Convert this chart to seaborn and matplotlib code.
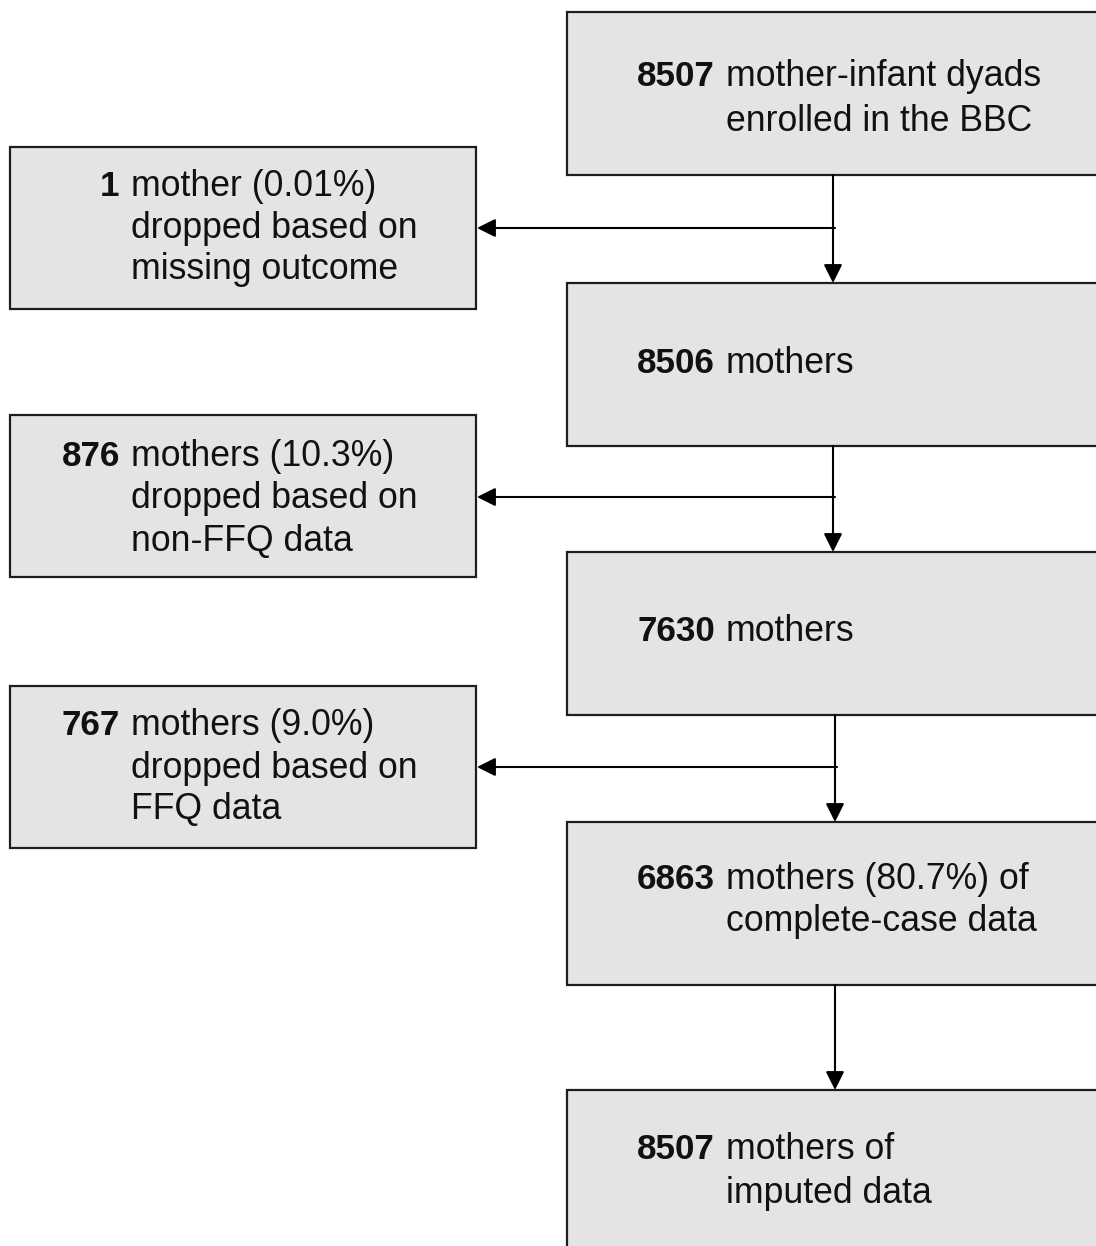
import matplotlib.pyplot as plt
import seaborn as sns
from matplotlib.patches import Rectangle

sns.set_style("white")
plt.rcParams['font.family'] = ['Liberation Sans', 'DejaVu Sans']

# main column (kept mothers)
main_counts = ["8507", "8506", "7630", "6863", "8507"]
main_text = [
    ["mother-infant dyads", "enrolled in the BBC"],
    ["mothers"],
    ["mothers"],
    ["mothers (80.7%) of", "complete-case data"],
    ["mothers of", "imputed data"],
]

# side column (dropped mothers)
drop_counts = ["1", "876", "767"]
drop_text = [
    ["mother (0.01%)", "dropped based on", "missing outcome"],
    ["mothers (10.3%)", "dropped based on", "non-FFQ data"],
    ["mothers (9.0%)", "dropped based on", "FFQ data"],
]

W, H = 1096, 1246
fig = plt.figure(figsize=(W / 100, H / 100), dpi=100)
ax = fig.add_axes([0, 0, 1, 1])
ax.set_xlim(0, W)
ax.set_ylim(H, 0)
ax.axis("off")

FILL = "#e4e4e4"
EDGE = "#1e1e1e"
FS = 25.7
FS_NUM = 25.2

main_tops = [12, 283, 552, 822, 1090]
main_h = 163
main_x0, main_x1 = 567, 1110
main_base = [[86, 131], [373], [641], [889, 931], [1159, 1203]]

drop_tops = [147, 415, 686]
drop_h = 162
drop_x0, drop_x1 = 10, 476
drop_base = [[196, 238, 279], [466, 508, 551], [735, 778, 819]]
drop_numx = [119, 120, 120]

for top in main_tops:
    ax.add_patch(Rectangle((main_x0, top), main_x1 - main_x0, main_h,
                           facecolor=FILL, edgecolor=EDGE, lw=1.6))
for top in drop_tops:
    ax.add_patch(Rectangle((drop_x0, top), drop_x1 - drop_x0, drop_h,
                           facecolor=FILL, edgecolor=EDGE, lw=1.6))

for num, lines, bases in zip(main_counts, main_text, main_base):
    ax.text(715, bases[0], num, fontsize=FS_NUM, fontweight="bold",
            ha="right", va="baseline", color="#111")
    for line, b in zip(lines, bases):
        ax.text(726, b, line, fontsize=FS, ha="left", va="baseline", color="#111")

for num, lines, bases, nx in zip(drop_counts, drop_text, drop_base, drop_numx):
    ax.text(nx, bases[0], num, fontsize=FS_NUM, fontweight="bold",
            ha="right", va="baseline", color="#111")
    for line, b in zip(lines, bases):
        ax.text(131, b, line, fontsize=FS, ha="left", va="baseline", color="#111")

arrow = dict(arrowstyle="-|>,head_length=0.4,head_width=0.2", color="black",
             lw=1.5, mutation_scale=28, shrinkA=0, shrinkB=0)

arrow_x = [833, 833, 835, 835]
for i, ax_x in enumerate(arrow_x):
    ax.annotate("", xy=(ax_x, main_tops[i + 1]), xytext=(ax_x, main_tops[i] + main_h),
                arrowprops=arrow)

side_y = [228, 497, 767]
for i, y in enumerate(side_y):
    ax.annotate("", xy=(drop_x1 + 1, y), xytext=(arrow_x[i] + 2, y),
                arrowprops=arrow)

fig.savefig("out.png", dpi=100, facecolor="white")
